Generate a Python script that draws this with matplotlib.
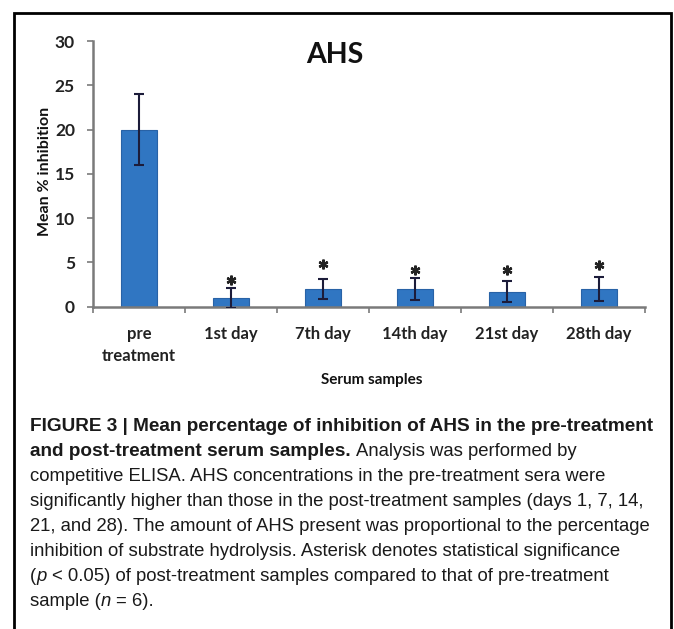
import matplotlib
matplotlib.use('Agg')
import matplotlib.pyplot as plt
import numpy as np
from matplotlib.patches import Rectangle
from matplotlib import font_manager

# ---------------- data ----------------
categories = ['pre\ntreatment', '1st day', '7th day', '14th day', '21st day', '28th day']
means = [20.0, 1.0, 2.0, 2.0, 1.7, 2.0]
errors = [4.0, 1.1, 1.1, 1.2, 1.2, 1.3]
star_cats = [1, 2, 3, 4, 5]
star_y = [3.0, 4.8, 4.1, 4.1, 4.7]
yticks = [0, 5, 10, 15, 20, 25, 30]
title = 'AHS'
ylabel = 'Mean % inhibition'
xlabel = 'Serum samples'

W, H = 674, 629
fig = plt.figure(figsize=(W / 100, H / 100), dpi=100)
fig.patch.set_facecolor('white')

chart_font = 'Lato'
ax_left, ax_right, ax_bottom, ax_top = 93, 645, 306.7, 41
ax = fig.add_axes([ax_left / W, 1 - ax_bottom / H, (ax_right - ax_left) / W, (ax_bottom - ax_top) / H])

x = np.arange(len(categories))
ax.bar(x, means, width=0.4, color='#3076c2', edgecolor='#2862a6', linewidth=0.8, zorder=2)
ax.errorbar(x, means, yerr=errors, fmt='none', ecolor='#1c1c3a', elinewidth=1.5,
            capsize=3.5, capthick=1.5, zorder=3)
ax.plot(np.array(star_cats), star_y, linestyle='none', marker=(6, 2, 0), markersize=7,
        markeredgewidth=1.7, color='#222222', zorder=4)

ax.set_xlim(-0.5, len(categories) - 0.5)
ax.set_ylim(0, 30)
ax.set_yticks(yticks)
ax.set_xticks(x)
ax.set_xticklabels(categories, fontsize=12, fontweight='bold', family=chart_font,
                   color='#222222', linespacing=1.45)
ax.set_xticks(np.arange(len(categories) + 1) - 0.5, minor=True)
ax.tick_params(axis='x', which='major', length=0, pad=14)
ax.tick_params(axis='x', which='minor', length=4, width=1.2, color='#7a7a7a', direction='out')
ax.tick_params(axis='y', which='major', length=4, width=1.2, color='#7a7a7a', pad=9)
for lab in ax.get_yticklabels():
    lab.set_fontsize(12.5)
    lab.set_fontweight('bold')
    lab.set_family(chart_font)
    lab.set_color('#222222')
for side in ['top', 'right']:
    ax.spines[side].set_visible(False)
for side in ['left', 'bottom']:
    ax.spines[side].set_color('#7a7a7a')
    ax.spines[side].set_linewidth(1.8)

fig.text(335 / W, 1 - 55 / H, title, fontsize=20.5, fontweight='bold', family=chart_font,
         ha='center', va='center', color='#111111')
fig.text(45 / W, 1 - 171 / H, ylabel, rotation=90, fontsize=11.5, fontweight='bold',
         family=chart_font, ha='center', va='center', color='#111111')
fig.text(372 / W, 1 - 380 / H, xlabel, fontsize=11, fontweight='bold', family=chart_font,
         ha='center', va='center', color='#111111')

# ---------------- border ----------------
fig.add_artist(Rectangle((13.5 / W, -0.02), (670.5 - 13.5) / W, 1 - 12.5 / H + 0.02,
                         transform=fig.transFigure, fill=False, edgecolor='black', linewidth=2))

# ---------------- caption ----------------
names = {f.name for f in font_manager.fontManager.ttflist}
cap_family = 'Liberation Sans Narrow' if 'Liberation Sans Narrow' in names else 'Liberation Sans'

B, N, I = ('bold', 'normal'), ('normal', 'normal'), ('normal', 'italic')
caption_lines = [
    [("FIGURE 3 | Mean percentage of inhibition of AHS in the pre-treatment", B)],
    [("and post-treatment serum samples.", B), (" Analysis was performed by", N)],
    [("competitive ELISA. AHS concentrations in the pre-treatment sera were", N)],
    [("significantly higher than those in the post-treatment samples (days 1, 7, 14,", N)],
    [("21, and 28). The amount of AHS present was proportional to the percentage", N)],
    [("inhibition of substrate hydrolysis. Asterisk denotes statistical significance", N)],
    [("(", N), ("p", I), (" < 0.05) of post-treatment samples compared to that of pre-treatment", N)],
    [("sample (", N), ("n", I), (" = 6).", N)],
]

renderer = fig.canvas.get_renderer()


def text_width(s, size, weight, style):
    t = fig.text(0, 0, s, fontsize=size, fontweight=weight, fontstyle=style, family=cap_family)
    w = t.get_window_extent(renderer).width
    t.remove()
    return w


def run_width(s, size, weight, style):
    core = s.strip(' ')
    nlead = len(s) - len(s.lstrip(' '))
    ntrail = len(s) - len(s.rstrip(' '))
    sp = text_width('x x', size, weight, style) - text_width('xx', size, weight, style)
    w = text_width(core, size, weight, style) if core else 0
    return w, nlead * sp, ntrail * sp


cap_x0 = 30
target_w = 656 - cap_x0
wb, _, _ = run_width(caption_lines[0][0][0], 10, 'bold', 'normal')
bold_size = 10 * target_w / wb
wn, _, _ = run_width(caption_lines[4][0][0], 10, 'normal', 'normal')
norm_size = 10 * target_w / wn
sizes = {'bold': bold_size, 'normal': norm_size}

baseline0 = 431
spacing = 25.0
for i, runs in enumerate(caption_lines):
    xpos = cap_x0
    ypos = baseline0 + i * spacing
    for s, (weight, style) in runs:
        size = sizes[weight]
        w, lead, trail = run_width(s, size, weight, style)
        xpos += lead
        fig.text(xpos / W, 1 - ypos / H, s.strip(' '), fontsize=size, fontweight=weight,
                 fontstyle=style, family=cap_family, ha='left', va='baseline', color='#1a1a1a')
        xpos += w + trail

fig.savefig('out.png', dpi=100, facecolor='white')
